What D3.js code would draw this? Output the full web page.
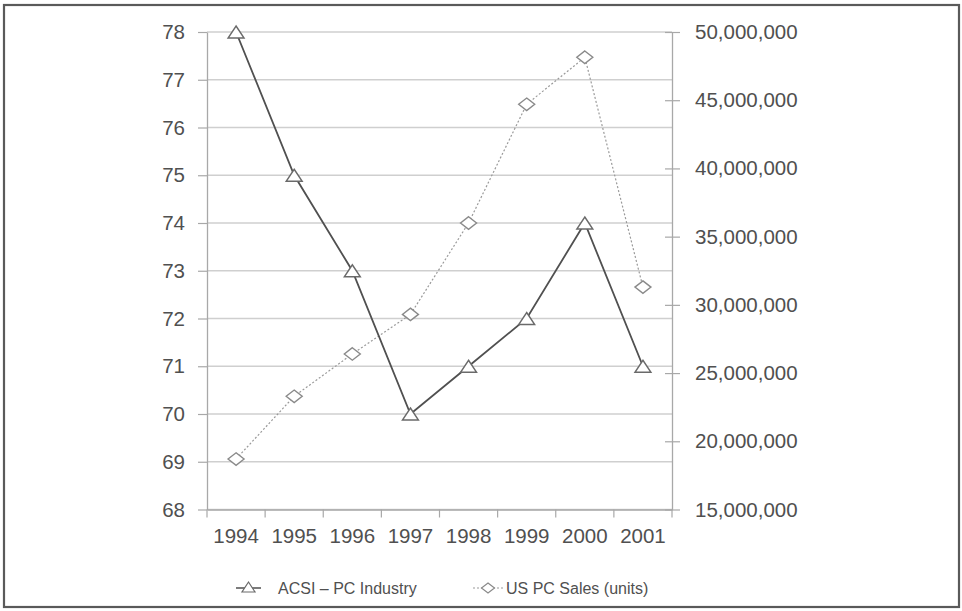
<!DOCTYPE html>
<html>
<head>
<meta charset="utf-8">
<script src="https://cdn.jsdelivr.net/npm/d3@7"></script>
<style>
  html, body { margin: 0; padding: 0; background: #fff; }
  svg { display: block; font-family: "Liberation Sans", Arial, sans-serif; }
</style>
</head>
<body>
<svg id="chart" width="962" height="611"></svg>
<script>
// Years on the category axis
const years = ["1994", "1995", "1996", "1997", "1998", "1999", "2000", "2001"];
// American Customer Satisfaction Index, PC industry
const acsi = [78, 75, 73, 70, 71, 72, 74, 71];
// US PC unit sales
const pcSales = [18700000, 23300000, 26400000, 29300000, 36000000, 44700000, 48150000, 31300000];
// Axis tick values
const acsiTicks = [68, 69, 70, 71, 72, 73, 74, 75, 76, 77, 78];
const salesTicks = [15000000, 20000000, 25000000, 30000000, 35000000, 40000000, 45000000, 50000000];
const seriesNames = ["ACSI \u2013 PC Industry", "US PC Sales (units)"];

const svg = d3.select("#chart");
const plot = { left: 207, right: 672, top: 32, bottom: 509.5 };
const textColor = "#505050";
const tickFont = "20.5px";

// Outer frame
svg.append("rect")
  .attr("x", 4).attr("y", 5).attr("width", 955).attr("height", 602)
  .attr("fill", "#fff").attr("stroke", "#5a5a5a").attr("stroke-width", 2.2);

const x = d3.scaleBand().domain(years).range([plot.left, plot.right]);
const yL = d3.scaleLinear().domain([68, 78]).range([plot.bottom, plot.top]);
const yR = d3.scaleLinear().domain([15000000, 50000000]).range([plot.bottom, plot.top]);

// Horizontal gridlines at each ACSI tick
svg.append("g").selectAll("line").data(acsiTicks).join("line")
  .attr("x1", plot.left).attr("x2", plot.right)
  .attr("y1", d => yL(d)).attr("y2", d => yL(d))
  .attr("stroke", "#cfcfcf").attr("stroke-width", 1.5);

// Left axis
const gL = svg.append("g").attr("transform", `translate(${plot.left},0)`)
  .call(d3.axisLeft(yL).tickValues(acsiTicks).tickSize(9).tickPadding(13).tickSizeOuter(0));
gL.select(".domain").attr("stroke", "#a8a8a8").attr("stroke-width", 1.3);
gL.selectAll(".tick line").attr("stroke", "#a8a8a8").attr("stroke-width", 1.2);
gL.selectAll(".tick text").attr("fill", textColor).style("font-size", tickFont);

// Right axis with crossing ticks
const gR = svg.append("g").attr("transform", `translate(${plot.right},0)`)
  .call(d3.axisRight(yR).tickValues(salesTicks).tickFormat(d3.format(",")).tickSize(8).tickPadding(15).tickSizeOuter(0));
gR.select(".domain").attr("stroke", "#a8a8a8").attr("stroke-width", 1.3);
gR.selectAll(".tick line").attr("x1", -7).attr("stroke", "#a8a8a8").attr("stroke-width", 1.2);
gR.selectAll(".tick text").attr("fill", textColor).style("font-size", tickFont);

// Bottom axis: labels at band centres, ticks at band boundaries
const gB = svg.append("g").attr("transform", `translate(0,${plot.bottom})`)
  .call(d3.axisBottom(x).tickSize(0).tickSizeOuter(0));
gB.select(".domain").attr("stroke", "#a8a8a8").attr("stroke-width", 1.3);
gB.selectAll(".tick text").attr("fill", textColor).style("font-size", tickFont)
  .attr("y", 33.5).attr("dy", 0);
const bounds = years.map(d => x(d)).concat([x(years[years.length - 1]) + x.bandwidth()]);
gB.append("g").selectAll("line").data(bounds).join("line")
  .attr("x1", d => d).attr("x2", d => d).attr("y1", 0).attr("y2", 8)
  .attr("stroke", "#a8a8a8").attr("stroke-width", 1.2);

const cx = d => x(d) + x.bandwidth() / 2;

// US PC sales: dotted line with diamonds
svg.append("path")
  .datum(years.map((d, i) => [cx(d), yR(pcSales[i])]))
  .attr("d", d3.line())
  .attr("fill", "none").attr("stroke", "#9a9a9a").attr("stroke-width", 1.2)
  .attr("stroke-dasharray", "2,2");

const diamond = (w, h) => `M0,${-h / 2}L${w / 2},0L0,${h / 2}L${-w / 2},0Z`;
svg.append("g").selectAll("path").data(years).join("path")
  .attr("transform", (d, i) => `translate(${cx(d)},${yR(pcSales[i])})`)
  .attr("d", diamond(16, 12.5))
  .attr("fill", "#fff").attr("stroke", "#8a8a8a").attr("stroke-width", 1.4);

// ACSI: solid line with triangles
svg.append("path")
  .datum(years.map((d, i) => [cx(d), yL(acsi[i])]))
  .attr("d", d3.line())
  .attr("fill", "none").attr("stroke", "#505050").attr("stroke-width", 1.8);

const triangle = (w, h) => `M0,${-h / 2}L${w / 2},${h / 2}L${-w / 2},${h / 2}Z`;
svg.append("g").selectAll("path").data(years).join("path")
  .attr("transform", (d, i) => `translate(${cx(d)},${yL(acsi[i])})`)
  .attr("d", triangle(16, 12))
  .attr("fill", "#fff").attr("stroke", "#6a6a6a").attr("stroke-width", 1.4);

// Legend
const leg = svg.append("g");
const ly = 588;
leg.append("line").attr("x1", 236).attr("x2", 261).attr("y1", ly).attr("y2", ly)
  .attr("stroke", "#505050").attr("stroke-width", 1.5);
leg.append("path").attr("transform", `translate(248.5,${ly - 1})`).attr("d", triangle(13, 10))
  .attr("fill", "#fff").attr("stroke", "#6a6a6a").attr("stroke-width", 1.2);
leg.append("text").attr("x", 278).attr("y", ly + 6).text(seriesNames[0])
  .attr("fill", textColor).style("font-size", "16px");

leg.append("line").attr("x1", 473).attr("x2", 503).attr("y1", ly).attr("y2", ly)
  .attr("stroke", "#9a9a9a").attr("stroke-width", 1.2).attr("stroke-dasharray", "2,2");
leg.append("path").attr("transform", `translate(488,${ly})`).attr("d", diamond(13, 10))
  .attr("fill", "#fff").attr("stroke", "#8a8a8a").attr("stroke-width", 1.2);
leg.append("text").attr("x", 506).attr("y", ly + 6).text(seriesNames[1])
  .attr("fill", textColor).style("font-size", "16px");
</script>
</body>
</html>
